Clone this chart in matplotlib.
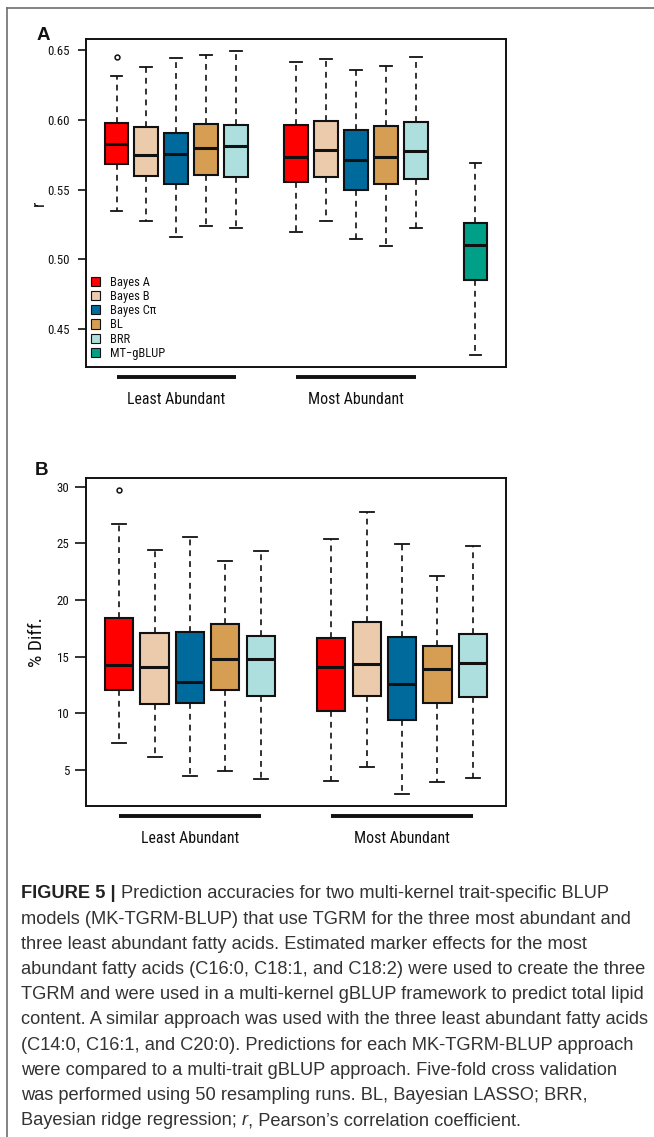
import matplotlib
matplotlib.use("Agg")
import matplotlib.pyplot as plt
from matplotlib import font_manager
from matplotlib.patches import Patch
from matplotlib.lines import Line2D
import matplotlib.transforms as mtransforms

# ---------------- data ----------------
methods = ["Bayes A", "Bayes B", "Bayes C\u03c0", "BL", "BRR"]
mt_label = "MT\u2212gBLUP"
colors = ["#FF0000", "#ECCBAD", "#006A9C", "#D59E52", "#ADDFDF", "#00A088"]
groups = ["Least Abundant", "Most Abundant"]

# Panel A (r)
a_least_whislo = [0.5346, 0.5276, 0.5163, 0.5240, 0.5226]
a_least_q1 = [0.5685, 0.5598, 0.5540, 0.5605, 0.5590]
a_least_med = [0.5829, 0.5750, 0.5755, 0.5800, 0.5811]
a_least_q3 = [0.5978, 0.5947, 0.5909, 0.5969, 0.5964]
a_least_whishi = [0.6317, 0.6382, 0.6447, 0.6466, 0.6493]
a_least_fliers = [[0.6454], [], [], [], []]

a_most_whislo = [0.5197, 0.5272, 0.5146, 0.5093, 0.5228]
a_most_q1 = [0.5558, 0.5588, 0.5495, 0.5540, 0.5578]
a_most_med = [0.5736, 0.5787, 0.5710, 0.5736, 0.5778]
a_most_q3 = [0.5967, 0.5995, 0.5929, 0.5958, 0.5987]
a_most_whishi = [0.6413, 0.6435, 0.6360, 0.6384, 0.6454]
a_most_fliers = [[], [], [], [], []]

mt_whislo = [0.4316]
mt_q1 = [0.4855]
mt_med = [0.5104]
mt_q3 = [0.5262]
mt_whishi = [0.5688]
mt_fliers = [[]]

a_yticks = [0.45, 0.50, 0.55, 0.60, 0.65]

# Panel B (% Diff.)
b_least_whislo = [7.35, 6.15, 4.50, 4.88, 4.21]
b_least_q1 = [12.08, 10.82, 10.91, 12.05, 11.49]
b_least_med = [14.24, 14.04, 12.78, 14.77, 14.77]
b_least_q3 = [18.39, 17.09, 17.15, 17.86, 16.80]
b_least_whishi = [26.75, 24.45, 25.54, 23.41, 24.36]
b_least_fliers = [[29.70], [], [], [], []]

b_most_whislo = [4.03, 5.24, 2.88, 3.94, 4.29]
b_most_q1 = [10.20, 11.49, 9.36, 10.88, 11.41]
b_most_med = [14.12, 14.36, 12.57, 13.88, 14.47]
b_most_q3 = [16.65, 18.10, 16.71, 15.94, 17.03]
b_most_whishi = [25.39, 27.81, 24.98, 22.14, 24.80]
b_most_fliers = [[], [], [], [], []]

b_yticks = [5, 10, 15, 20, 25, 30]

caption_lines = [
    "Prediction accuracies for two multi-kernel trait-specific BLUP",
    "models (MK-TGRM-BLUP) that use TGRM for the three most abundant and",
    "three least abundant fatty acids. Estimated marker effects for the most",
    "abundant fatty acids (C16:0, C18:1, and C18:2) were used to create the three",
    "TGRM and were used in a multi-kernel gBLUP framework to predict total lipid",
    "content. A similar approach was used with the three least abundant fatty acids",
    "(C14:0, C16:1, and C20:0). Predictions for each MK-TGRM-BLUP approach",
    "were compared to a multi-trait gBLUP approach. Five-fold cross validation",
    "was performed using 50 resampling runs. BL, Bayesian LASSO; BRR,",
    "Bayesian ridge regression; r, Pearson\u2019s correlation coefficient.",
]

# ---------------- fonts ----------------
avail = {f.name for f in font_manager.fontManager.ttflist}
narrow_candidates = ["Liberation Sans Narrow", "Arial Narrow", "Nimbus Sans Narrow",
                     "Roboto Condensed", "Open Sans Condensed"]
NARROW = None
for c in narrow_candidates:
    if c in avail:
        NARROW = c
        break
if NARROW is None:
    NARROW = "Liberation Sans"
    FS = 0.88   # regular width font: shrink to keep text widths close
else:
    FS = 1.0
FAM = [NARROW, "DejaVu Sans"]
REG = ["Liberation Sans", "DejaVu Sans"]

W, H = 654, 1137
fig = plt.figure(figsize=(W / 100, H / 100), dpi=100)
fig.patch.set_facecolor("white")


def fx(px):
    return px / W


def fy(py):
    return 1 - py / H


def make_stats(lo, q1, med, q3, hi, fl):
    return [dict(whislo=lo[i], q1=q1[i], med=med[i], q3=q3[i], whishi=hi[i], fliers=fl[i])
            for i in range(len(med))]


def draw_panel(ax, stats, positions, cols, yticks, yfmt, tick_len, tick_pad):
    res = ax.bxp(stats, positions=positions, widths=0.8, patch_artist=True,
                 showfliers=True, capwidths=0.4,
                 boxprops=dict(edgecolor="#111111", linewidth=1.5),
                 medianprops=dict(color="#111111", linewidth=2.2, solid_capstyle="butt"),
                 whiskerprops=dict(color="#111111", linewidth=1.2, linestyle=(0, (3.5, 3))),
                 capprops=dict(color="#111111", linewidth=1.3),
                 flierprops=dict(marker="o", markerfacecolor="none", markeredgecolor="#111111",
                                 markersize=3.5, markeredgewidth=1.1))
    for patch, c in zip(res["boxes"], cols):
        patch.set_facecolor(c)
    allv = []
    for s in stats:
        allv += [s["whislo"], s["whishi"]] + list(s["fliers"])
    lo, hi = min(allv), max(allv)
    pad = 0.04 * (hi - lo)
    ax.set_ylim(lo - pad, hi + pad)
    xlo, xhi = min(positions) - 0.5, max(positions) + 0.5
    xp = 0.04 * (xhi - xlo)
    ax.set_xlim(xlo - xp, xhi + xp)
    ax.set_xticks([])
    ax.set_yticks(yticks)
    ax.set_yticklabels([yfmt.format(v) for v in yticks], family=FAM, fontsize=9.3 * FS)
    ax.tick_params(axis="y", direction="out", length=tick_len, width=1.2, pad=tick_pad,
                   colors="#111111")
    for sp in ax.spines.values():
        sp.set_linewidth(1.4)
        sp.set_color("#111111")


def group_bars(ax, group_positions, labels):
    trans = mtransforms.blended_transform_factory(ax.transData, ax.transAxes)
    for pos, lab in zip(group_positions, labels):
        ax.plot([min(pos), max(pos)], [-0.0305, -0.0305], transform=trans, clip_on=False,
                color="#111111", linewidth=2.8, solid_capstyle="butt")
        ax.text(sum(pos) / len(pos), -0.1006, lab, transform=trans, ha="center", va="center",
                family=FAM, fontsize=11.4 * FS, color="#111111")


# ---------------- Panel A ----------------
axA = fig.add_axes([fx(86), fy(367), (506 - 86) / W, (367 - 39) / H])
posA_least = [1, 2, 3, 4, 5]
posA_most = [7, 8, 9, 10, 11]
posA_mt = [13]
statsA = (make_stats(a_least_whislo, a_least_q1, a_least_med, a_least_q3, a_least_whishi, a_least_fliers)
          + make_stats(a_most_whislo, a_most_q1, a_most_med, a_most_q3, a_most_whishi, a_most_fliers)
          + make_stats(mt_whislo, mt_q1, mt_med, mt_q3, mt_whishi, mt_fliers))
draw_panel(axA, statsA, posA_least + posA_most + posA_mt, colors[:5] + colors[:5] + [colors[5]],
           a_yticks, "{:.2f}", 6, 6)
group_bars(axA, [posA_least, posA_most], groups)
axA.text((39 - 86) / 420, 0.5, "r", transform=axA.transAxes, rotation=90, ha="center",
         va="center", family=FAM, fontsize=13, color="#111111")

handles = [Patch(facecolor=c, edgecolor="#111111", linewidth=0.8) for c in colors]
leg = axA.legend(handles, methods + [mt_label], loc="lower left", bbox_to_anchor=(0.012, 0.022),
                 frameon=False, borderpad=0, borderaxespad=0, handlelength=0.75, handleheight=0.75,
                 handletextpad=0.75, labelspacing=0.1 / FS, prop=dict(family=FAM, size=9.0 * FS))
for t in leg.get_texts():
    t.set_color("#111111")

# ---------------- Panel B ----------------
axB = fig.add_axes([fx(86), fy(806), (506 - 86) / W, (806 - 478) / H])
posB_least = [1, 2, 3, 4, 5]
posB_most = [7, 8, 9, 10, 11]
statsB = (make_stats(b_least_whislo, b_least_q1, b_least_med, b_least_q3, b_least_whishi, b_least_fliers)
          + make_stats(b_most_whislo, b_most_q1, b_most_med, b_most_q3, b_most_whishi, b_most_fliers))
draw_panel(axB, statsB, posB_least + posB_most, colors[:5] + colors[:5], b_yticks, "{:d}", 8, 4)
group_bars(axB, [posB_least, posB_most], groups)
axB.text((37 - 86) / 420, 0.5, "% Diff.", transform=axB.transAxes, rotation=90, ha="center",
         va="center", family=FAM, fontsize=14 * FS, color="#111111")

# panel letters
fig.text(fx(43), fy(36), "A", family=REG, fontsize=13.5, fontweight="bold", ha="center", va="center",
         color="#111111")
fig.text(fx(42), fy(470), "B", family=REG, fontsize=13.5, fontweight="bold", ha="center", va="center",
         color="#111111")

# frame lines
fig.add_artist(Line2D([fx(7), 1.0], [fy(8), fy(8)], transform=fig.transFigure, color="#6E6E6E",
                      linewidth=1.2))
fig.add_artist(Line2D([fx(7), fx(7)], [fy(8), 0.0], transform=fig.transFigure, color="#6E6E6E",
                      linewidth=1.2))

# ---------------- caption ----------------
renderer = fig.canvas.get_renderer()
cap_size = 12.0
probe = fig.text(0, 0, caption_lines[3], family=REG, fontsize=cap_size)
wpx = probe.get_window_extent(renderer).width
probe.remove()
cap_size = cap_size * (627.0 / wpx)

y0 = 894
dy = 25.2
cap_color = "#333333"
bold = fig.text(fx(21), fy(y0), "FIGURE 5 |", family=REG, fontsize=cap_size, fontweight="bold",
                ha="left", va="center", color="#222222")
bb = bold.get_window_extent(renderer)
space = cap_size * 100 / 72 * 0.28
fig.text((bb.x1 + space) / W, fy(y0), caption_lines[0], family=REG, fontsize=cap_size,
         ha="left", va="center", color=cap_color)
for i, line in enumerate(caption_lines[1:], start=1):
    if i == len(caption_lines) - 1:
        parts = line.split("r, ", 1)
        t1 = fig.text(fx(21), fy(y0 + i * dy), parts[0], family=REG, fontsize=cap_size,
                      ha="left", va="center", color=cap_color)
        b1 = t1.get_window_extent(renderer)
        t2 = fig.text(b1.x1 / W, fy(y0 + i * dy), "r", family=REG, fontsize=cap_size,
                      style="italic", ha="left", va="center", color=cap_color)
        b2 = t2.get_window_extent(renderer)
        fig.text(b2.x1 / W, fy(y0 + i * dy), ", " + parts[1], family=REG, fontsize=cap_size,
                 ha="left", va="center", color=cap_color)
    else:
        fig.text(fx(21), fy(y0 + i * dy), line, family=REG, fontsize=cap_size,
                 ha="left", va="center", color=cap_color)

fig.savefig("out.png", dpi=100, facecolor="white")
